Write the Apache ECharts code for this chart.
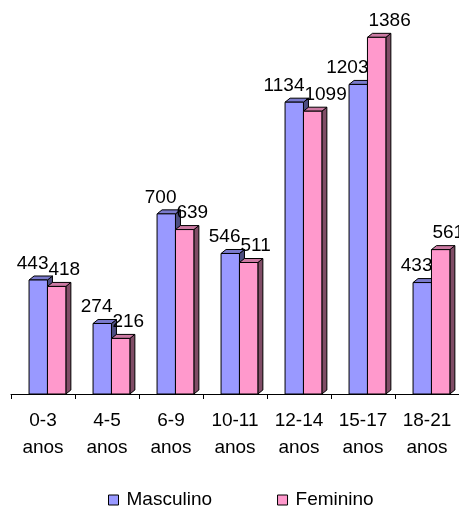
<!DOCTYPE html>
<html>
<head>
<meta charset="utf-8">
<script src="https://cdn.jsdelivr.net/npm/echarts@6/dist/echarts.min.js"></script>
<style>
html,body{margin:0;padding:0;background:#fff;}
#c{width:459px;height:507px;}
</style>
</head>
<body>
<div id="c"></div>
<script>
const categories = ['0-3\nanos','4-5\nanos','6-9\nanos','10-11\nanos','12-14\nanos','15-17\nanos','18-21\nanos'];
const masculino = [443, 274, 700, 546, 1134, 1203, 433];
const feminino = [418, 216, 639, 511, 1099, 1386, 561];
const seriesNames = ['Masculino', 'Feminino'];

const FONT = '"Liberation Sans", Arial, sans-serif';
const palette = [
  {front:'#9999FF', top:'#7A7ACC', side:'#4D4D80'},
  {front:'#FF99CC', top:'#CC7AA3', side:'#804D66'}
];

function makeRender(idx){
  return function(params, api){
    const cat = api.value(0), val = api.value(1);
    const c = api.coord([cat, val]);
    const b = api.coord([cat, 0]);
    const W = api.size([1, 0])[0];
    const bw = W * 0.2877;
    const boundary = c[0] - W * 0.218 + bw;
    const left = idx === 0 ? boundary - bw : boundary;
    const top = c[1], base = b[1];
    const dx = 5, dy = 4;
    const col = palette[idx];
    const stroke = {stroke:'#000', lineWidth:1};
    return {
      type:'group',
      children:[
        {type:'polygon', shape:{points:[[left+bw, top],[left+bw+dx, top-dy],[left+bw+dx, base-dy],[left+bw, base]]},
          style:Object.assign({fill:col.side}, stroke)},
        {type:'polygon', shape:{points:[[left, top],[left+dx, top-dy],[left+bw+dx, top-dy],[left+bw, top]]},
          style:Object.assign({fill:col.top}, stroke)},
        {type:'rect', shape:{x:left, y:top, width:bw, height:base-top},
          style:Object.assign({fill:col.front}, stroke)},
        {type:'text', z2:10,
          style:{text:String(val), x: boundary + 1, y: top - 7,
            align: idx === 0 ? 'right' : 'left', verticalAlign:'bottom',
            font:'19px ' + FONT, fill:'#000'}}
      ]
    };
  };
}

const chart = echarts.init(document.getElementById('c'), null, {renderer:'canvas'});
chart.setOption({
  animation:false,
  backgroundColor:'#fff',
  textStyle:{fontFamily:FONT},
  grid:{left:11, width:450, top:8, bottom:113},
  legend:{
    left:103, top:485,
    itemWidth:10, itemHeight:10, itemGap:65,
    icon:'rect',
    itemStyle:{borderColor:'#000', borderWidth:1},
    textStyle:{fontSize:19, color:'#000', fontFamily:FONT, padding:[0,0,0,3], lineHeight:20},
    data:seriesNames
  },
  xAxis:{
    type:'category', data:categories, boundaryGap:true, offset:3,
    axisLine:{lineStyle:{color:'#000', width:1}},
    axisTick:{show:true, length:5, lineStyle:{color:'#000'}},
    axisLabel:{fontSize:19, color:'#000', fontFamily:FONT, lineHeight:27, margin:10, interval:0}
  },
  yAxis:{type:'value', min:0, max:1500, show:false, splitLine:{show:false}},
  series:[
    {name:seriesNames[0], type:'custom', renderItem:makeRender(0), encode:{x:0, y:1},
      itemStyle:{color:palette[0].front, borderColor:'#000', borderWidth:1},
      data:masculino.map((v,i)=>[i,v]), clip:false},
    {name:seriesNames[1], type:'custom', renderItem:makeRender(1), encode:{x:0, y:1},
      itemStyle:{color:palette[1].front, borderColor:'#000', borderWidth:1},
      data:feminino.map((v,i)=>[i,v]), clip:false}
  ]
});
</script>
</body>
</html>
